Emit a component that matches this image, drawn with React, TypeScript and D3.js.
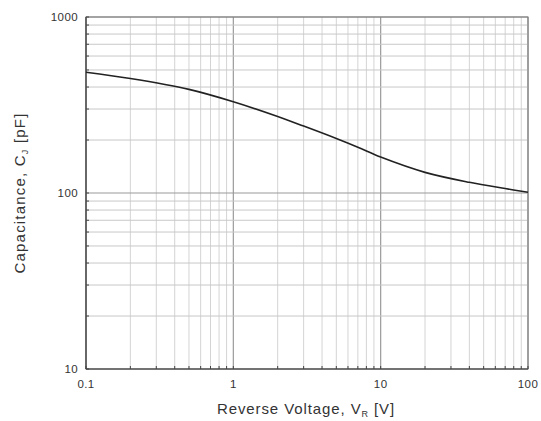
import React, { useEffect, useRef } from "react";
import * as d3 from "d3";

// curve
const voltage = [0.1, 0.2, 0.5, 1, 2, 3, 5, 7, 10, 20, 40, 70, 100];
const capacitance = [485, 447, 388, 330, 272, 240, 204, 182, 160, 131, 115, 106, 101];

const xTicks = [0.1, 1, 10, 100];
const xTickLabels = ["0.1", "1", "10", "100"];
const yTicks = [10, 100, 1000];
const yTickLabels = ["10", "100", "1000"];

const minorOf = (lo: number, hi: number) => {
  const out: number[] = [];
  for (let d = lo; d < hi; d *= 10) {
    for (let k = 1; k <= 9; k++) out.push(d * k);
  }
  out.push(hi);
  return out;
};

export default function App() {
  const svgRef = useRef<SVGSVGElement | null>(null);
  const width = 541;
  const height = 421;
  const m = { left: 86, right: 13, top: 17, bottom: 52 };

  useEffect(() => {
    document.body.style.margin = "0";
    if (!svgRef.current) return;
    const svg = d3.select(svgRef.current);
    svg.selectAll("*").remove();

    const x = d3.scaleLog().domain([0.1, 100]).range([m.left, width - m.right]);
    const y = d3.scaleLog().domain([10, 1000]).range([height - m.bottom, m.top]);

    const font = "Liberation Sans, Arial, sans-serif";
    const g = svg.append("g");

    const xMinor = minorOf(0.1, 100);
    const yMinor = minorOf(10, 1000);

    // grid, decades darker
    g.selectAll(".vx")
      .data(xMinor)
      .enter()
      .append("line")
      .attr("x1", d => x(d))
      .attr("x2", d => x(d))
      .attr("y1", y(10))
      .attr("y2", y(1000))
      .attr("stroke", d => (xTicks.includes(d) ? "#9a9a9a" : "#d4d4d4"))
      .attr("stroke-width", d => (xTicks.includes(d) ? 1.2 : 1));

    g.selectAll(".hy")
      .data(yMinor)
      .enter()
      .append("line")
      .attr("x1", x(0.1))
      .attr("x2", x(100))
      .attr("y1", d => y(d))
      .attr("y2", d => y(d))
      .attr("stroke", d => (yTicks.includes(d) ? "#9a9a9a" : "#c8c8c8"))
      .attr("stroke-width", d => (yTicks.includes(d) ? 1.2 : 1));

    // frame
    g.append("rect")
      .attr("x", x(0.1))
      .attr("y", y(1000))
      .attr("width", x(100) - x(0.1))
      .attr("height", y(10) - y(1000))
      .attr("fill", "none")
      .attr("stroke", "#7a7a7a")
      .attr("stroke-width", 1);
    g.append("line")
      .attr("x1", x(0.1)).attr("x2", x(0.1))
      .attr("y1", y(1000)).attr("y2", y(10))
      .attr("stroke", "#444").attr("stroke-width", 1.2);
    g.append("line")
      .attr("x1", x(0.1)).attr("x2", x(100))
      .attr("y1", y(10)).attr("y2", y(10))
      .attr("stroke", "#444").attr("stroke-width", 1.2);

    // inner ticks
    g.selectAll(".ty")
      .data(yMinor)
      .enter()
      .append("line")
      .attr("x1", x(0.1))
      .attr("x2", x(0.1) + 3)
      .attr("y1", d => y(d))
      .attr("y2", d => y(d))
      .attr("stroke", "#444");
    g.selectAll(".tx")
      .data(xMinor)
      .enter()
      .append("line")
      .attr("x1", d => x(d))
      .attr("x2", d => x(d))
      .attr("y1", y(10))
      .attr("y2", y(10) - 3)
      .attr("stroke", "#444");

    // tick labels
    g.selectAll(".lx")
      .data(xTicks)
      .enter()
      .append("text")
      .attr("x", d => x(d))
      .attr("y", y(10) + 19)
      .attr("text-anchor", "middle")
      .attr("font-family", font)
      .attr("font-size", 11.5)
      .attr("letter-spacing", 0.4)
      .attr("fill", "#333")
      .text((d, i) => xTickLabels[i]);

    g.selectAll(".ly")
      .data(yTicks)
      .enter()
      .append("text")
      .attr("x", x(0.1) - 8)
      .attr("y", d => y(d) + 4)
      .attr("text-anchor", "end")
      .attr("font-family", font)
      .attr("font-size", 11.5)
      .attr("letter-spacing", 0.4)
      .attr("fill", "#333")
      .text((d, i) => yTickLabels[i]);

    // curve
    const line = d3
      .line<number>()
      .x((d, i) => x(voltage[i]))
      .y(d => y(d))
      .curve(d3.curveCatmullRom.alpha(0.5));
    g.append("path")
      .attr("d", line(capacitance))
      .attr("fill", "none")
      .attr("stroke", "#222")
      .attr("stroke-width", 1.6);

    // axis titles
    const xt = g
      .append("text")
      .attr("x", 306)
      .attr("y", 414)
      .attr("text-anchor", "middle")
      .attr("font-family", font)
      .attr("font-size", 15)
      .attr("letter-spacing", 0.9)
      .attr("fill", "#333");
    xt.append("tspan").text("Reverse Voltage, V");
    xt.append("tspan").attr("font-size", 9).attr("dy", 3).text("R");
    xt.append("tspan").attr("dy", -3).text(" [V]");

    const yt = g
      .append("text")
      .attr("transform", `translate(25, 193) rotate(-90)`)
      .attr("text-anchor", "middle")
      .attr("font-family", font)
      .attr("font-size", 15)
      .attr("letter-spacing", 1.2)
      .attr("fill", "#333");
    yt.append("tspan").text("Capacitance, C");
    yt.append("tspan").attr("font-size", 9).attr("dy", 3).text("J");
    yt.append("tspan").attr("dy", -3).text(" [pF]");
  }, []);

  return <svg ref={svgRef} width={width} height={height} style={{ display: "block", background: "#fff" }} />;
}
